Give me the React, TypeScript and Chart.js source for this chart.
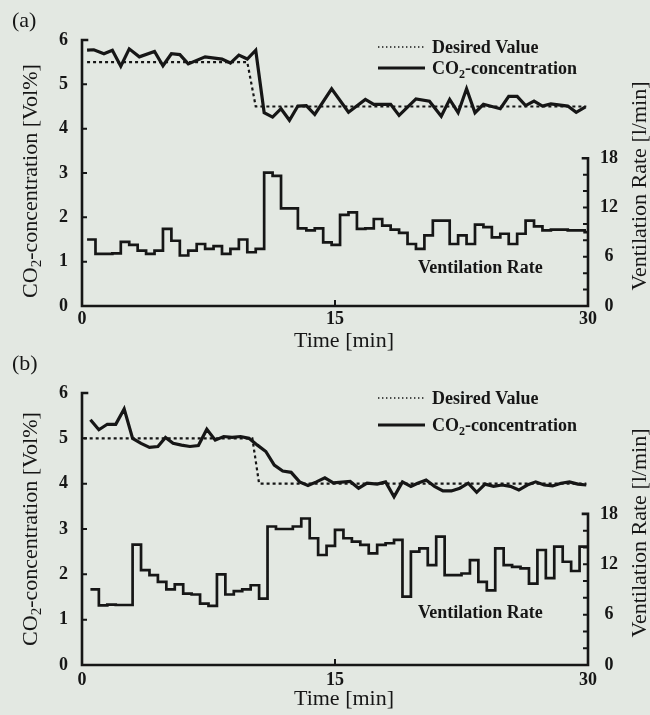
import React, { useEffect, useRef } from 'react';
import { Chart, registerables } from 'chart.js';

Chart.register(...registerables);

const FONT = "'Liberation Serif', 'Times New Roman', Times, serif";
const INK = '#161616';
const BG = '#e3e8e2';

// ---------- Panel (a) ----------
const co2TimeA = [0.3, 0.7, 1.3, 1.8, 2.3, 2.8, 3.4, 4.3, 4.8, 5.3, 5.8, 6.3, 7.3, 8.3, 8.8, 9.3, 9.8, 10.3, 10.8, 11.3, 11.8, 12.3, 12.8, 13.3, 13.8, 14.8, 15.8, 16.8, 17.3, 18.3, 18.8, 19.8, 20.6, 21.3, 21.8, 22.3, 22.8, 23.3, 23.8, 24.8, 25.3, 25.8, 26.3, 26.8, 27.3, 27.8, 28.8, 29.3, 29.85];
const co2A = [5.77, 5.78, 5.69, 5.77, 5.41, 5.8, 5.62, 5.74, 5.42, 5.69, 5.67, 5.46, 5.62, 5.57, 5.48, 5.66, 5.57, 5.77, 4.36, 4.26, 4.45, 4.19, 4.51, 4.52, 4.32, 4.9, 4.37, 4.66, 4.55, 4.55, 4.3, 4.67, 4.62, 4.28, 4.66, 4.36, 4.9, 4.36, 4.55, 4.45, 4.73, 4.73, 4.52, 4.62, 4.51, 4.56, 4.51, 4.37, 4.49];
const desiredTimeA = [0.3, 9.8, 10.3, 29.9];
const desiredA = [5.5, 5.5, 4.5, 4.5];
const ventStartA = [0.3, 0.8, 1.3, 1.8, 2.3, 2.8, 3.3, 3.8, 4.3, 4.8, 5.3, 5.8, 6.3, 6.8, 7.3, 7.8, 8.3, 8.8, 9.3, 9.8, 10.3, 10.8, 11.3, 11.8, 12.3, 12.8, 13.3, 13.8, 14.3, 14.8, 15.3, 15.8, 16.3, 16.8, 17.3, 17.8, 18.3, 18.8, 19.3, 19.8, 20.3, 20.8, 21.3, 21.8, 22.3, 22.8, 23.3, 23.8, 24.3, 24.8, 25.3, 25.8, 26.3, 26.8, 27.3, 27.8, 28.3, 28.8, 29.3, 29.8];
const ventA = [8.1, 6.35, 6.35, 6.4, 7.8, 7.45, 6.75, 6.35, 6.75, 9.4, 7.95, 6.15, 6.75, 7.55, 6.95, 7.3, 6.35, 6.95, 8.1, 6.55, 6.95, 16.25, 15.85, 11.9, 11.9, 9.45, 9.2, 9.45, 7.75, 7.45, 11.1, 11.4, 9.4, 9.45, 10.6, 9.8, 9.3, 8.9, 7.55, 6.95, 8.6, 10.4, 10.4, 7.55, 8.6, 7.55, 9.9, 9.6, 8.35, 8.8, 7.55, 8.8, 10.4, 9.7, 9.2, 9.3, 9.3, 9.2, 9.2, 9.0];

// ---------- Panel (b) ----------
const co2TimeB = [0.5, 1.0, 1.5, 2.0, 2.5, 3.0, 3.5, 4.0, 4.5, 4.95, 5.4, 5.9, 6.4, 6.9, 7.4, 7.9, 8.4, 8.9, 9.4, 9.9, 10.4, 10.9, 11.4, 11.9, 12.4, 12.9, 13.4, 13.9, 14.4, 14.9, 15.9, 16.4, 16.9, 17.5, 18.0, 18.5, 19.0, 19.5, 19.9, 20.4, 20.9, 21.4, 21.9, 22.4, 22.9, 23.4, 23.9, 24.4, 24.9, 25.4, 25.9, 26.4, 26.9, 27.4, 27.9, 28.4, 28.9, 29.4, 29.9];
const co2B = [5.41, 5.19, 5.31, 5.31, 5.65, 5.0, 4.89, 4.8, 4.82, 5.02, 4.89, 4.85, 4.82, 4.84, 5.2, 4.96, 5.04, 5.02, 5.04, 5.0, 4.85, 4.71, 4.41, 4.28, 4.25, 4.04, 3.96, 4.04, 4.13, 4.02, 4.05, 3.9, 4.01, 3.99, 4.04, 3.71, 4.04, 3.94, 4.01, 4.08, 3.94, 3.84, 3.84, 3.9, 4.01, 3.81, 3.99, 3.94, 3.97, 3.94, 3.86, 3.97, 4.04, 3.97, 3.95, 4.01, 4.04, 3.99, 3.97];
const desiredTimeB = [0.1, 10.1, 10.5, 29.9];
const desiredB = [5.0, 5.0, 4.0, 4.0];
const ventStartB = [0.5, 1.0, 1.5, 2.0, 2.5, 3.0, 3.5, 4.0, 4.5, 5.0, 5.5, 6.0, 6.5, 7.0, 7.5, 8.0, 8.5, 9.0, 9.5, 10.0, 10.5, 11.0, 11.5, 12.0, 12.5, 13.0, 13.5, 14.0, 14.5, 15.0, 15.5, 16.0, 16.5, 17.0, 17.5, 18.0, 18.5, 19.0, 19.5, 20.0, 20.5, 21.0, 21.5, 22.0, 22.5, 23.0, 23.5, 24.0, 24.5, 25.0, 25.5, 26.0, 26.5, 27.0, 27.5, 28.0, 28.5, 29.0, 29.5];
const ventB = [9.0, 7.1, 7.2, 7.15, 7.15, 14.35, 11.3, 10.7, 9.9, 9.0, 9.6, 8.5, 8.4, 7.3, 7.05, 10.8, 8.4, 8.8, 9.0, 9.5, 7.9, 16.5, 16.2, 16.2, 16.5, 17.45, 15.1, 13.1, 14.2, 16.1, 15.1, 14.7, 14.3, 13.3, 14.3, 14.5, 14.9, 8.15, 13.5, 13.9, 11.9, 15.3, 10.7, 10.7, 10.9, 12.5, 9.9, 8.9, 13.9, 11.9, 11.7, 11.5, 9.7, 13.7, 10.35, 14.1, 12.3, 11.2, 14.1];

// ---------- Axes ----------
const timeMin = 0;
const timeMax = 30;
const timeTicks = [0, 15, 30];
const co2Min = 0;
const co2Max = 6;
const co2Ticks = [0, 1, 2, 3, 4, 5, 6];
const ventMin = 0;
const ventMax = 32.4;
const ventTicks = [0, 2, 4, 6, 8, 10, 12, 14, 16, 18];
const ventLabelTicks = [0, 6, 12, 18];

const xTitle = 'Time [min]';
const yTitleParts = [{ t: 'CO' }, { t: '2', sub: true }, { t: '-concentration [Vol%]' }];
const y2Title = 'Ventilation Rate [l/min]';
const legendDesired = 'Desired Value';
const legendCo2Parts = [{ t: 'CO' }, { t: '2', sub: true }, { t: '-concentration' }];
const ventLabel = 'Ventilation Rate';

type Part = { t: string; sub?: boolean };

interface Spec {
  tag: string;
  tagBase: number;
  areaTop: number;
  areaBottom: number;
  xTickPad: number;
  co2T: number[];
  co2V: number[];
  desT: number[];
  desV: number[];
  ventT: number[];
  ventV: number[];
  legLine1: number;
  legLine2: number;
  ventLabelBase: number;
  xTitleBase: number;
  yTitleMid: number;
  y2TitleMid: number;
}

const H = 715;
const W = 650;

const specA: Spec = {
  tag: '(a)', tagBase: 27, areaTop: 40, areaBottom: 306, xTickPad: 3,
  co2T: co2TimeA, co2V: co2A, desT: desiredTimeA, desV: desiredA, ventT: ventStartA, ventV: ventA,
  legLine1: 47, legLine2: 68, ventLabelBase: 273, xTitleBase: 347, yTitleMid: 181, y2TitleMid: 186,
};
const specB: Spec = {
  tag: '(b)', tagBase: 370, areaTop: 393, areaBottom: 665, xTickPad: 5,
  co2T: co2TimeB, co2V: co2B, desT: desiredTimeB, desV: desiredB, ventT: ventStartB, ventV: ventB,
  legLine1: 398, legLine2: 425, ventLabelBase: 618, xTitleBase: 705, yTitleMid: 529, y2TitleMid: 533,
};

function partsWidth(ctx: CanvasRenderingContext2D, parts: Part[], size: number, weight: string) {
  let w = 0;
  for (const p of parts) {
    ctx.font = `${weight} ${p.sub ? Math.round(size * 0.68) : size}px ${FONT}`;
    w += ctx.measureText(p.t).width;
  }
  return w;
}

function drawParts(ctx: CanvasRenderingContext2D, parts: Part[], x: number, y: number, size: number, weight: string) {
  ctx.textAlign = 'left';
  ctx.textBaseline = 'alphabetic';
  let cx = x;
  for (const p of parts) {
    const s = p.sub ? Math.round(size * 0.68) : size;
    ctx.font = `${weight} ${s}px ${FONT}`;
    ctx.fillText(p.t, cx, p.sub ? y + size * 0.2 : y);
    cx += ctx.measureText(p.t).width;
  }
}

function makePlugin(spec: Spec) {
  return {
    id: 'decor' + spec.tag,
    afterDraw(chart: any) {
      const { ctx } = chart;
      const xs = chart.scales.x;
      const ys = chart.scales.y;
      const y2s = chart.scales.y2;
      const x0 = xs.getPixelForValue(timeMin);
      const x1 = xs.getPixelForValue(timeMax);
      const yb = ys.getPixelForValue(co2Min);
      const yt = ys.getPixelForValue(co2Max);
      const yv = y2s.getPixelForValue(ventTicks[ventTicks.length - 1]);
      ctx.save();
      ctx.strokeStyle = INK;
      ctx.fillStyle = INK;
      ctx.lineWidth = 2.6;
      ctx.lineCap = 'square';
      ctx.beginPath();
      ctx.moveTo(x0 + 5, yt);
      ctx.lineTo(x0, yt);
      ctx.lineTo(x0, yb);
      ctx.lineTo(x1, yb);
      ctx.lineTo(x1, yv);
      ctx.lineTo(x1 - 5, yv);
      ctx.stroke();
      ctx.lineWidth = 2;
      ctx.lineCap = 'butt';
      ctx.beginPath();
      for (const v of co2Ticks) {
        if (v === co2Min || v === co2Max) continue;
        const py = ys.getPixelForValue(v);
        ctx.moveTo(x0, py);
        ctx.lineTo(x0 + 5, py);
      }
      for (const v of ventTicks) {
        if (v === ventMin || v === ventTicks[ventTicks.length - 1]) continue;
        const py = y2s.getPixelForValue(v);
        ctx.moveTo(x1, py);
        ctx.lineTo(x1 - 5, py);
      }
      for (const v of timeTicks) {
        if (v === timeMin || v === timeMax) continue;
        const px = xs.getPixelForValue(v);
        ctx.moveTo(px, yb);
        ctx.lineTo(px, yb - 6);
      }
      ctx.stroke();

      // panel tag
      ctx.font = `22px ${FONT}`;
      ctx.textAlign = 'left';
      ctx.textBaseline = 'alphabetic';
      ctx.fillText(spec.tag, 12, spec.tagBase);

      // legend
      ctx.save();
      ctx.lineWidth = 1.4;
      ctx.setLineDash([1.4, 2.6]);
      ctx.beginPath();
      ctx.moveTo(378, spec.legLine1);
      ctx.lineTo(425, spec.legLine1);
      ctx.stroke();
      ctx.restore();
      ctx.lineWidth = 3;
      ctx.beginPath();
      ctx.moveTo(378, spec.legLine2);
      ctx.lineTo(425, spec.legLine2);
      ctx.stroke();
      drawParts(ctx, [{ t: legendDesired }], 432, spec.legLine1 + 6, 18, 'bold');
      drawParts(ctx, legendCo2Parts, 432, spec.legLine2 + 6, 18, 'bold');

      // ventilation label
      drawParts(ctx, [{ t: ventLabel }], 418, spec.ventLabelBase, 18, 'bold');

      // x title
      ctx.font = `22px ${FONT}`;
      ctx.textAlign = 'center';
      ctx.fillText(xTitle, 344, spec.xTitleBase);

      // left title (rotated)
      const lw = partsWidth(ctx, yTitleParts, 22, 'normal');
      ctx.save();
      ctx.translate(37, spec.yTitleMid);
      ctx.rotate(-Math.PI / 2);
      drawParts(ctx, yTitleParts, -lw / 2, 0, 22, 'normal');
      ctx.restore();

      // right title (rotated)
      ctx.font = `22px ${FONT}`;
      const rw = ctx.measureText(y2Title).width;
      ctx.save();
      ctx.translate(646, spec.y2TitleMid);
      ctx.rotate(-Math.PI / 2);
      ctx.textAlign = 'left';
      ctx.textBaseline = 'alphabetic';
      ctx.fillText(y2Title, -rw / 2, 0);
      ctx.restore();

      ctx.restore();
    },
  };
}

function makeConfig(spec: Spec): any {
  const tickFont = { family: FONT, size: 18, weight: 'bold' as const };
  const co2Pts = spec.co2T.map((t, i) => ({ x: t, y: spec.co2V[i] }));
  const desPts = spec.desT.map((t, i) => ({ x: t, y: spec.desV[i] }));
  const ventPts = spec.ventT.map((t, i) => ({ x: t, y: spec.ventV[i] }));
  ventPts.push({ x: timeMax, y: spec.ventV[spec.ventV.length - 1] });
  return {
    type: 'line',
    data: {
      datasets: [
        { label: legendDesired, data: desPts, yAxisID: 'y', borderColor: INK, borderWidth: 2.2, borderDash: [3, 3], pointRadius: 0, tension: 0, fill: false },
        { label: 'CO2-concentration', data: co2Pts, yAxisID: 'y', borderColor: INK, borderWidth: 3.2, pointRadius: 0, tension: 0, fill: false, borderJoinStyle: 'miter' },
        { label: ventLabel, data: ventPts, yAxisID: 'y2', borderColor: INK, borderWidth: 2.7, pointRadius: 0, stepped: true, fill: false },
      ],
    },
    options: {
      responsive: false,
      maintainAspectRatio: false,
      animation: false,
      events: [],
      layout: { padding: { top: spec.areaTop, left: 0, right: 0, bottom: 0 } },
      plugins: { legend: { display: false }, tooltip: { enabled: false }, title: { display: false } },
      scales: {
        x: {
          type: 'linear',
          position: 'bottom',
          min: timeMin,
          max: timeMax,
          afterBuildTicks: (s: any) => { s.ticks = timeTicks.map((v) => ({ value: v })); },
          afterFit: (s: any) => { s.height = H - spec.areaBottom; },
          ticks: { font: tickFont, color: INK, padding: spec.xTickPad, maxRotation: 0, autoSkip: false },
          grid: { display: false, drawTicks: false },
          border: { display: false },
        },
        y: {
          type: 'linear',
          position: 'left',
          min: co2Min,
          max: co2Max,
          afterBuildTicks: (s: any) => { s.ticks = co2Ticks.map((v) => ({ value: v })); },
          afterFit: (s: any) => { s.width = 82; },
          ticks: { font: tickFont, color: INK, padding: 14 },
          grid: { display: false, drawTicks: false },
          border: { display: false },
        },
        y2: {
          type: 'linear',
          position: 'right',
          min: ventMin,
          max: ventMax,
          afterBuildTicks: (s: any) => { s.ticks = ventTicks.map((v) => ({ value: v })); },
          afterFit: (s: any) => { s.width = W - 588; },
          ticks: {
            font: tickFont,
            color: INK,
            padding: 12,
            crossAlign: 'center',
            callback: (v: number) => (ventLabelTicks.includes(v) ? String(v) : ''),
          },
          grid: { display: false, drawTicks: false },
          border: { display: false },
        },
      },
    },
    plugins: [makePlugin(spec)],
  };
}

function Panel({ spec }: { spec: Spec }) {
  const ref = useRef<HTMLCanvasElement>(null);
  useEffect(() => {
    const chart = new Chart(ref.current as HTMLCanvasElement, makeConfig(spec));
    return () => chart.destroy();
  }, [spec]);
  return (
    <canvas
      ref={ref}
      width={W}
      height={H}
      style={{ position: 'absolute', left: 0, top: 0, width: W, height: H }}
    />
  );
}

export default function App() {
  useEffect(() => {
    document.body.style.margin = '0';
    document.body.style.background = BG;
  }, []);
  return (
    <div style={{ position: 'absolute', left: 0, top: 0, width: W, height: H, background: BG, overflow: 'hidden' }}>
      <Panel spec={specA} />
      <Panel spec={specB} />
    </div>
  );
}
